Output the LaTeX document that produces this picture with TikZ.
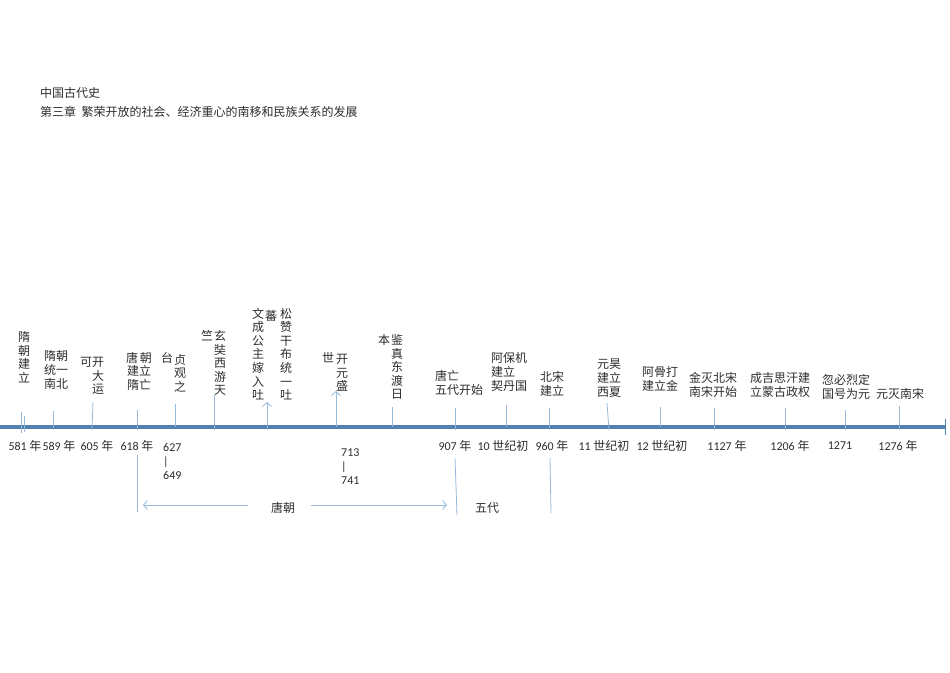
\documentclass[tikz,border=0pt]{standalone}
\usepackage{fontspec}
\setmainfont{Carlito}
\newfontfamily\cjk{Noto Sans CJK SC}
\usetikzlibrary{arrows.meta}
\definecolor{axis}{RGB}{84,128,176}
\definecolor{tickc}{RGB}{150,185,220}
\definecolor{txt}{RGB}{45,45,45}
\tikzset{
  lbl/.style={font=\cjk\fontsize{12}{13.6}\selectfont, text=txt, inner sep=0pt, align=center},
  lbll/.style={font=\cjk\fontsize{12}{13.8}\selectfont, text=txt, inner sep=0pt, align=left},
  num/.style={font=\fontsize{12}{14}\selectfont, text=txt, inner sep=0pt, align=left},
  tk/.style={draw=tickc, line width=0.8pt},
  tka/.style={draw=tickc, line width=0.8pt, -{Straight Barb[length=4pt,width=9pt]}},
  spanarrow/.style={draw=tickc, line width=0.8pt, -{Straight Barb[length=4pt,width=9pt]}}
}
\newcommand{\yr}[1]{{\cjk #1}}
\begin{document}
\begin{tikzpicture}[x=1pt,y=-1pt]
\useasboundingbox (0,0) rectangle (950,672);
% title
\node[lbll, anchor=west] (t1) at (40,93) {中国古代史};
\node[lbll, anchor=west] (t2) at (40,112) {第三章\ \ 繁荣开放的社会、经济重心的南移和民族关系的发展};

% axis
\coordinate (a0) at (0,427);
\coordinate (a1) at (945,427);
\draw[axis, line width=3.5pt] (a0) -- (a1);
\coordinate (e0) at (945.5,419);
\coordinate (e1) at (945.5,435);
\draw[axis, line width=1.5pt] (e0) -- (e1);

% ticks
\coordinate (k1a) at (21,412); \coordinate (k1b) at (21,433); \draw[tk] (k1a) -- (k1b);
\coordinate (k1c) at (24,416); \coordinate (k1d) at (24,432); \draw[tk] (k1c) -- (k1d);
\coordinate (k2a) at (53,411); \coordinate (k2b) at (53,428); \draw[tk] (k2a) -- (k2b);
\coordinate (k3a) at (93,402); \coordinate (k3b) at (92,430); \draw[tk] (k3a) -- (k3b);
\coordinate (k4a) at (137,410); \coordinate (k4b) at (137,430); \draw[tk] (k4a) -- (k4b);
\coordinate (k5a) at (175,404); \coordinate (k5b) at (175,427); \draw[tk] (k5a) -- (k5b);
\coordinate (k6a) at (214,395); \coordinate (k6b) at (214,430); \draw[tk] (k6a) -- (k6b);
\coordinate (k7a) at (267,430); \coordinate (k7b) at (267,402); \draw[tka] (k7a) -- (k7b);
\coordinate (k8a) at (336,427); \coordinate (k8b) at (336,391); \draw[tka] (k8a) -- (k8b);
\coordinate (k9a) at (392,407); \coordinate (k9b) at (392,427); \draw[tk] (k9a) -- (k9b);
\coordinate (k10a) at (455,408); \coordinate (k10b) at (455,430); \draw[tk] (k10a) -- (k10b);
\coordinate (k11a) at (506,405); \coordinate (k11b) at (506,427); \draw[tk] (k11a) -- (k11b);
\coordinate (k12a) at (549,408); \coordinate (k12b) at (549,428); \draw[tk] (k12a) -- (k12b);
\coordinate (k13a) at (607,403); \coordinate (k13b) at (609,430); \draw[tk] (k13a) -- (k13b);
\coordinate (k14a) at (660,407); \coordinate (k14b) at (660,427); \draw[tk] (k14a) -- (k14b);
\coordinate (k15a) at (714,408); \coordinate (k15b) at (714,430); \draw[tk] (k15a) -- (k15b);
\coordinate (k16a) at (785,408); \coordinate (k16b) at (785,430); \draw[tk] (k16a) -- (k16b);
\coordinate (k17a) at (845,410); \coordinate (k17b) at (845,430); \draw[tk] (k17a) -- (k17b);
\coordinate (k18a) at (899,406); \coordinate (k18b) at (899,430); \draw[tk] (k18a) -- (k18b);

% labels above
\node[lbl] (l1) at (24,357) {隋\\朝\\建\\立};
\node[lbl] (l2) at (56,370) {隋朝\\统一\\南北};
\node[lbl] (l3a) at (86,362) {可};
\node[lbl] (l3b) at (98,376) {开\\大\\运};
\node[lbl] (l4) at (139,371) {唐\,朝\\建立\\隋亡};
\node[lbl] (l5a) at (167,358) {台};
\node[lbl] (l5b) at (180,373) {贞\\观\\之};
\node[lbl] (l6a) at (207,336) {竺};
\node[lbl] (l6b) at (220,363) {玄\\奘\\西\\游\\天};
\node[lbl] (l7a) at (258,354) {文\\成\\公\\主\\嫁\\入\\吐};
\node[lbl] (l7b) at (271,316) {蕃};
\node[lbl] (l7c) at (286,354) {松\\赞\\干\\布\\统\\一\\吐};
\node[lbl] (l8a) at (328,358) {世};
\node[lbl] (l8b) at (342,373) {开\\元\\盛};
\node[lbl] (l9a) at (384,340) {本};
\node[lbl] (l9b) at (397,367) {鉴\\真\\东\\渡\\日};
\node[lbll, anchor=west] (l10) at (435,383) {唐亡\\五代开始};
\node[lbll, anchor=west] (l11) at (491,372) {阿保机\\建立\\契丹国};
\node[lbll, anchor=west] (l12) at (540,384) {北宋\\建立};
\node[lbll, anchor=west] (l13) at (597,378) {元昊\\建立\\西夏};
\node[lbll, anchor=west] (l14) at (642,379) {阿骨打\\建立金};
\node[lbll, anchor=west] (l15) at (689,385) {金灭北宋\\南宋开始};
\node[lbll, anchor=west] (l16) at (750,385) {成吉思汗建\\立蒙古政权};
\node[lbll, anchor=west] (l17) at (822,387) {忽必烈定\\国号为元};
\node[lbll, anchor=west] (l18) at (876,394) {元灭南宋};

% labels below
\node[num] (y1) at (25,446) {581 \yr{年}};
\node[num] (y2) at (59,446) {589 \yr{年}};
\node[num] (y3) at (97,446) {605 \yr{年}};
\node[num] (y4) at (137,446) {618 \yr{年}};
\node[num, anchor=north west] (y5) at (163,443) {627\\|\\649};
\node[num, anchor=north west] (y6) at (341,449) {713\\|\\741};
\node[num] (y7) at (455,446) {907 \yr{年}};
\node[num] (y8) at (503,446) {10 \yr{世纪初}};
\node[num] (y9) at (552,446) {960 \yr{年}};
\node[num] (y10) at (604,446) {11 \yr{世纪初}};
\node[num] (y11) at (662,446) {12 \yr{世纪初}};
\node[num] (y12) at (727,446) {1127 \yr{年}};
\node[num] (y13) at (790,446) {1206 \yr{年}};
\node[num] (y14) at (840,446) {1271};
\node[num] (y15) at (898,446) {1276 \yr{年}};

% period brackets
\coordinate (d1a) at (137,455); \coordinate (d1b) at (137,512); \draw[tk] (d1a) -- (d1b);
\coordinate (d2a) at (455,458); \coordinate (d2b) at (457,515); \draw[tk] (d2a) -- (d2b);
\coordinate (d3a) at (550,458); \coordinate (d3b) at (551,513); \draw[tk] (d3a) -- (d3b);
\node[lbl] (tang) at (283,508) {唐朝};
\node[lbl] (wudai) at (487,508) {五代};
\coordinate (s0) at (248,505); \coordinate (s1) at (143,505);
\coordinate (s2) at (311,505); \coordinate (s3) at (447,505);
\draw[spanarrow] (s0) -- (s1);
\draw[spanarrow] (s2) -- (s3);
\end{tikzpicture}
\end{document}
